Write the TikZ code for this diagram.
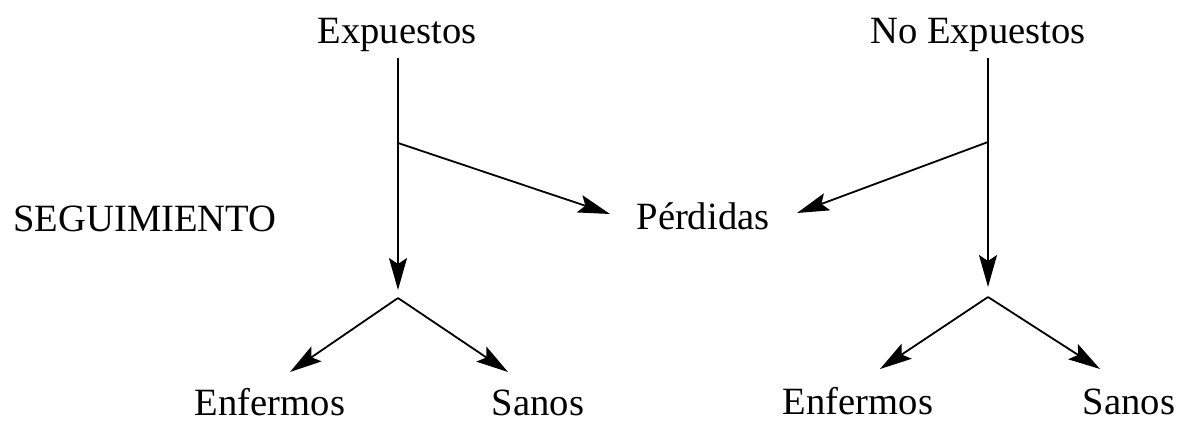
\documentclass[tikz,border=0pt]{standalone}
\usepackage{fontspec}
\setmainfont{Liberation Serif}
\usetikzlibrary{arrows.meta}
\begin{document}
\begin{tikzpicture}[x=0.5pt,y=-0.5pt,
  lbl/.style={anchor=base,inner sep=0pt,font=\fontsize{19.3pt}{22pt}\selectfont},
  ln/.style={line width=0.9pt},
  arr/.style={ln,-{Stealth[length=16pt,width=9pt,inset=3pt]}}]
\useasboundingbox (0,0) rectangle (1187,423);
% labels
\node[lbl] (exp) at (397,43) {Expuestos};
\node[lbl] (noexp) at (978,43) {No Expuestos};
\node[lbl] (seg) at (145,231) {SEGUIMIENTO};
\node[lbl] (perd) at (703,229) {Pérdidas};
\node[lbl] (enf1) at (270,415) {Enfermos};
\node[lbl] (san1) at (538,415) {Sanos};
\node[lbl] (enf2) at (858,414) {Enfermos};
\node[lbl] (san2) at (1129,414) {Sanos};
% left tree
\coordinate (l0) at (398,58);
\coordinate (lb) at (398,143);
\coordinate (lt) at (398,290);
\coordinate (lp) at (610,214);
\coordinate (ls) at (398,298);
\coordinate (le) at (290,372);
\coordinate (lsa) at (508,372);
\draw[arr] (l0) -- (lt);
\draw[arr] (lb) -- (lp);
\draw[arr] (ls) -- (le);
\draw[arr] (ls) -- (lsa);
% right tree
\coordinate (r0) at (988,58);
\coordinate (rb) at (988,142);
\coordinate (rt) at (988,287);
\coordinate (rp) at (797,213);
\coordinate (rs) at (988,297);
\coordinate (re) at (880,369);
\coordinate (rsa) at (1100,369);
\draw[arr] (r0) -- (rt);
\draw[arr] (rb) -- (rp);
\draw[arr] (rs) -- (re);
\draw[arr] (rs) -- (rsa);
\end{tikzpicture}
\end{document}
